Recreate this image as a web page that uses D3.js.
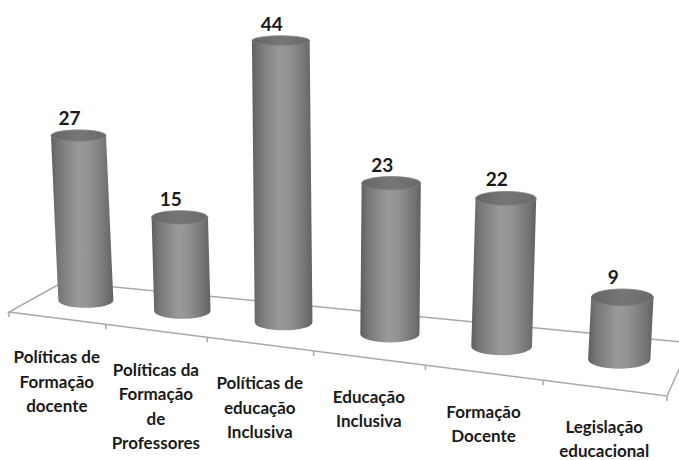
<!DOCTYPE html>
<html>
<head>
<meta charset="utf-8">
<script src="https://cdn.jsdelivr.net/npm/d3@7"></script>
<style>
  body { margin: 0; background: #fff; }
  text { font-family: Lato, "Open Sans", sans-serif; font-weight: bold; fill: #1a1a1a; }
</style>
</head>
<body>
<div id="chart"></div>
<script>
var categories = [
  "Políticas de\nFormação\ndocente",
  "Políticas da\nFormação\nde\nProfessores",
  "Políticas de\neducação\nInclusiva",
  "Educação\nInclusiva",
  "Formação\nDocente",
  "Legislação\neducacional"
];
var values = [27, 15, 44, 23, 22, 9];

var width = 679, height = 460;

var svg = d3.select('#chart')
  .append('svg')
  .attr('width', width)
  .attr('height', height);

// floor corners: front-left, front-right, back-left, back-right
var FL = [9, 312], FR = [667, 396], BL = [63, 282], BR = [691, 343];
var K = 1.16;          // perspective stretch along the row
var DEPTH = 0.56;      // where the cylinders stand on the floor
var VP = [340, 6000];  // vertical vanishing point (slight lean)

function g(u) { return u / (K - (K - 1) * u); }
function gd(u) { return K / Math.pow(K - (K - 1) * u, 2); }
function lerp(a, b, t) { return [a[0] + (b[0] - a[0]) * t, a[1] + (b[1] - a[1]) * t]; }
function floorPt(u, v) {
  var t = g(u);
  return lerp(lerp(FL, FR, t), lerp(BL, BR, t), v);
}

var x = d3.scaleBand()
  .domain(d3.range(categories.length))
  .range([0, 1]);

var y = d3.scaleLinear()
  .domain([0, 50])
  .range([0, 325]);

var defs = svg.append('defs');
var sideGrad = defs.append('linearGradient').attr('id', 'side');
[[0, '#5e5e5e'], [0.12, '#767676'], [0.45, '#9a9a9d'], [0.62, '#929295'], [0.88, '#747474'], [1, '#616161']]
  .forEach(function(s) { sideGrad.append('stop').attr('offset', s[0]).attr('stop-color', s[1]); });
var topGrad = defs.append('linearGradient').attr('id', 'topface');
[[0, '#656565'], [0.5, '#767678'], [1, '#6a6a6a']]
  .forEach(function(s) { topGrad.append('stop').attr('offset', s[0]).attr('stop-color', s[1]); });

// floor
var floor = svg.append('g')
  .attr('fill', 'none')
  .attr('stroke', '#a8a8a8')
  .attr('stroke-width', 1.5);

var c = [floorPt(0, 0), floorPt(1, 0), floorPt(1, 1), floorPt(0, 1)];
floor.append('path')
  .attr('d', 'M' + c.map(function(p) { return p.join(','); }).join('L') + 'Z');

var ticks = x.domain().map(function(d) { return x(d); }).concat([1]);
floor.selectAll('.tick')
  .data(ticks)
  .enter().append('line')
  .attr('x1', function(u) { return floorPt(u, 0)[0]; })
  .attr('y1', function(u) { return floorPt(u, 0)[1]; })
  .attr('x2', function(u) { return floorPt(u, 0)[0]; })
  .attr('y2', function(u) { return floorPt(u, 0)[1] + 5; });

// cylinders
var bars = categories.map(function(name, i) {
  var u = x(i) + x.bandwidth() / 2;
  var s = Math.sqrt(gd(u));
  var b = floorPt(u, DEPTH);
  var h = y(values[i]) * s;
  var rx = 58.6 * s / 2;
  var t = [b[0] + (b[0] - VP[0]) * h / (VP[1] - b[1]), b[1] - h];
  return {
    name: name, value: values[i], u: u, base: b, topC: t, rx: rx,
    ryTop: rx * (0.15 + 0.0004 * t[1]),
    ryBot: rx * (0.15 + 0.0004 * b[1])
  };
});

var cyl = svg.selectAll('.bar')
  .data(bars)
  .enter().append('g')
  .attr('class', 'bar');

cyl.append('path')
  .attr('fill', 'url(#side)')
  .attr('d', function(d) {
    return 'M' + (d.topC[0] - d.rx) + ',' + d.topC[1] +
      'L' + (d.base[0] - d.rx) + ',' + d.base[1] +
      'A' + d.rx + ',' + d.ryBot + ' 0 0 0 ' + (d.base[0] + d.rx) + ',' + d.base[1] +
      'L' + (d.topC[0] + d.rx) + ',' + d.topC[1] + 'Z';
  });

cyl.append('ellipse')
  .attr('cx', function(d) { return d.topC[0]; })
  .attr('cy', function(d) { return d.topC[1]; })
  .attr('rx', function(d) { return d.rx; })
  .attr('ry', function(d) { return d.ryTop; })
  .attr('fill', 'url(#topface)')
  .attr('stroke', '#808082')
  .attr('stroke-width', 0.8);

cyl.append('text')
  .attr('class', 'bar-score')
  .attr('x', function(d) { return d.topC[0] - 9; })
  .attr('y', function(d) { return d.topC[1] - d.ryTop - 5; })
  .attr('text-anchor', 'middle')
  .style('font-size', '19px')
  .text(function(d) { return d.value; });

// category labels
var labels = svg.selectAll('.cat')
  .data(bars)
  .enter().append('text')
  .attr('class', 'cat')
  .attr('text-anchor', 'middle')
  .style('font-size', '17px');

labels.each(function(d) {
  var p = floorPt(d.u, 0);
  d3.select(this).selectAll('tspan')
    .data(d.name.split('\n'))
    .enter().append('tspan')
    .attr('x', p[0])
    .attr('y', function(line, j) { return p[1] + 45 + j * 24.5; })
    .text(function(line) { return line; });
});
</script>
</body>
</html>
